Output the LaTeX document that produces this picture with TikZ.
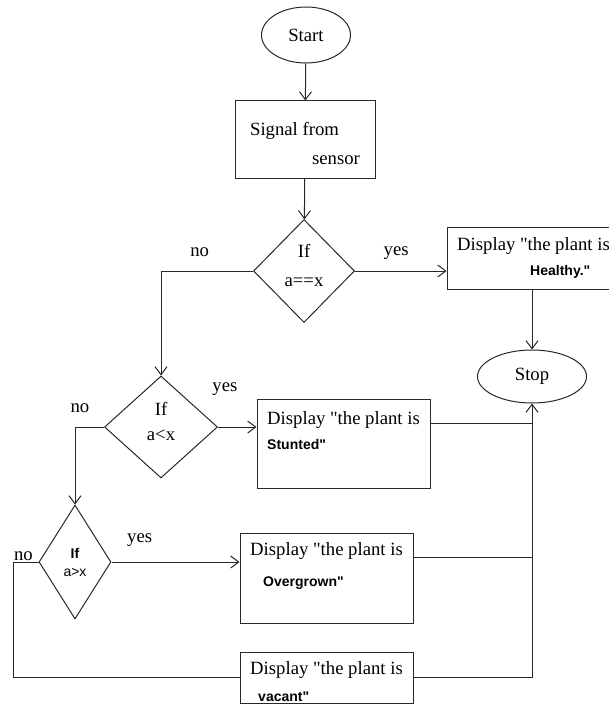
\documentclass[tikz,border=0pt]{standalone}
\usepackage{fontspec}
\setmainfont{Liberation Serif}[Ligatures=TeXOff]
\newfontfamily\labsans{Liberation Sans}[Ligatures=TeXOff]
\usetikzlibrary{arrows.meta,positioning,shapes.geometric}
\definecolor{lnGray}{RGB}{40,40,40}
\newcommand{\padbelow}[1]{\rule[-#1]{0pt}{#1}}
\newcommand{\padabove}[1]{\rule{0pt}{#1}}
\newcommand{\dq}{\symbol{34}}
\newcommand{\plantword}[1]{{\labsans\bfseries\fontsize{14}{16}\selectfont #1}}

\begin{document}
\begin{tikzpicture}[x=1pt,y=-1pt,font=\fontsize{18.7}{27}\selectfont,
  term/.style={ellipse,draw=lnGray,line width=1pt,inner sep=0pt},
  box/.style={rectangle,draw=lnGray,line width=1pt,align=left,
              inner xsep=9pt,inner ysep=1pt,minimum width=173pt},
  dec/.style={diamond,draw=lnGray,line width=1pt,align=center,inner sep=0pt},
  fl/.style={-{Straight Barb[length=8pt,width=12pt]},draw=lnGray,line width=1pt},
  ln/.style={draw=lnGray,line width=1pt},
  lab/.style={inner sep=0pt}]
\useasboundingbox (0,0) rectangle (609,706);
% ---- main column
\node[term,minimum width=89pt,minimum height=56pt] (start) at (306,35) {Start};
\node[box,minimum width=140pt,minimum height=77pt,
      font=\fontsize{18.7}{29}\selectfont] (signal) at (305,139.5)
      {\padabove{21.5pt}Signal from\\\hspace*{62pt}sensor};
\node[dec,minimum width=101pt,minimum height=103pt,font=\fontsize{18.7}{29}\selectfont]
      (dec1) at (304,271) {If\\a==x\padbelow{11pt}};
\node[box,minimum height=62pt,font=\fontsize{18.7}{25}\selectfont] (healthy) at (533.5,258)
      {Display \dq the plant is\\\hspace*{73pt}\plantword{Healthy.\dq}};
\node[term,minimum width=109pt,minimum height=53pt] (stop) at (532,376.5) {Stop};
% ---- second test
\node[dec,minimum width=113pt,minimum height=102pt,font=\fontsize{18.7}{25}\selectfont]
      (dec2) at (161,427) {If\\a<x\padbelow{11pt}};
\node[box,minimum height=89pt,font=\fontsize{18.7}{25}\selectfont] (stunted) at (343.5,443.5)
      {Display \dq the plant is\\\plantword{Stunted\dq}\padbelow{26pt}};
% ---- third test
\node[dec,minimum width=72pt,minimum height=114pt,font=\labsans\fontsize{14}{18}\selectfont]
      (dec3) at (75,562) {\textbf{If}\\a>x};
\node[box,minimum height=90pt,font=\fontsize{18.7}{31}\selectfont] (overgrown) at (326.5,578)
      {Display \dq the plant is\\\hspace*{13pt}\plantword{Overgrown\dq}\padbelow{26pt}};
\node[box,minimum height=51pt,inner ysep=0pt,font=\fontsize{18.7}{27}\selectfont] (vacant) at (326.5,677.5)
      {\padabove{21pt}Display \dq the plant is\\\hspace*{8pt}\plantword{vacant\dq}};
% ---- exits towards stop
\coordinate (stuntedout) at ([yshift=20.5pt]stunted.east);
\coordinate (overgrownout) at ([yshift=21pt]overgrown.east);
% ---- flows
\draw[fl] (start) -- (signal);
\draw[fl] (signal) -- (dec1);
\draw[fl] (dec1.east) -- node[lab,above=10.8pt,pos=0.45]{yes} (dec1.east -| healthy.west);
\draw[fl] (dec1.west) -| node[lab,above=13.8pt,pos=0.29]{no} (dec2.north);
\draw[fl] (healthy.south -| stop.north) -- (stop.north);
\draw[fl] (dec2.east) -- node[lab,above=30.8pt,pos=0.18]{yes} (dec2.east -| stunted.west);
\draw[fl] (dec2.west) -| node[lab,above=13.8pt,pos=0.415]{no} (dec3.north);
\draw[fl] (dec3.east) -- node[lab,above=14.8pt,pos=0.22]{yes} (dec3.east -| overgrown.west);
\draw[ln] (dec3.west) -- node[lab,above=1pt,pos=0.6]{no} ++(-25,0) |- (vacant.west);
\draw[ln] (stuntedout) -- (stuntedout -| stop.south);
\draw[ln] (overgrownout) -- (overgrownout -| stop.south);
\draw[fl] (vacant.east) -| (stop.south);
\end{tikzpicture}
\end{document}
